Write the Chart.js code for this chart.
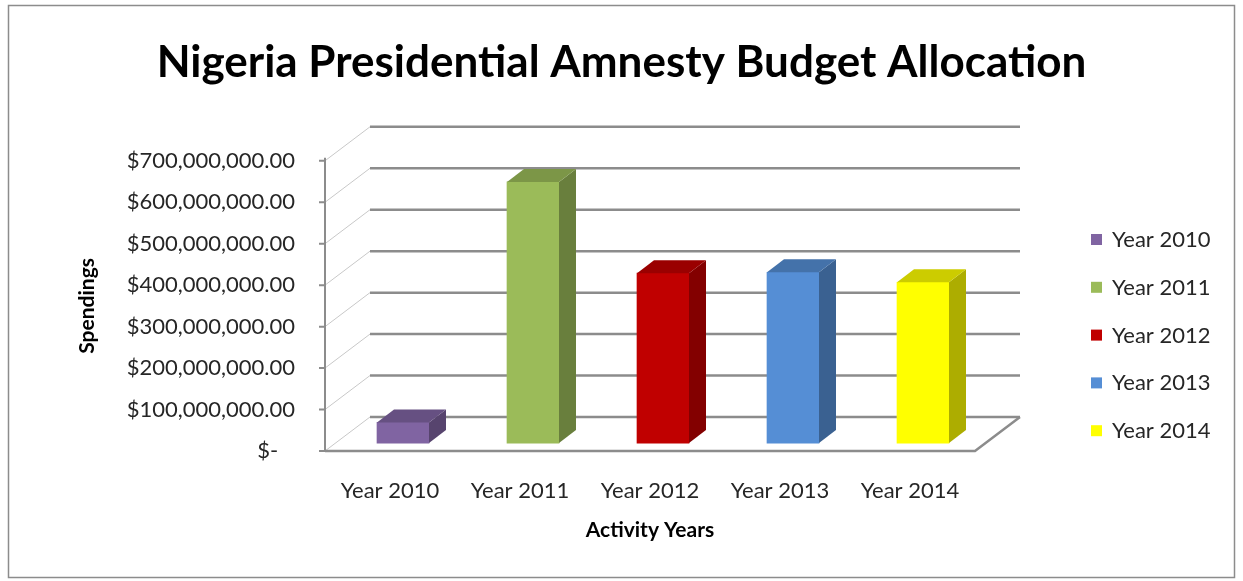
<!DOCTYPE html>
<html>
<head>
<meta charset="utf-8">
<script src="https://cdn.jsdelivr.net/npm/chart.js@4.4.1/dist/chart.umd.min.js"></script>
<style>
  html, body { margin: 0; padding: 0; background: #fff; }
  #wrap { width: 1243px; height: 581px; }
</style>
</head>
<body>
<div id="wrap"><canvas id="budgetChart"></canvas></div>
<script>
// chart data
const categories = ['Year 2010', 'Year 2011', 'Year 2012', 'Year 2013', 'Year 2014'];
const spendings = [50000000, 630000000, 410000000, 412000000, 388000000];
const yTickLabels = ['$-   ', '$100,000,000.00', '$200,000,000.00', '$300,000,000.00',
  '$400,000,000.00', '$500,000,000.00', '$600,000,000.00', '$700,000,000.00'];

// one colour per year, like the excel 3d column chart
const barColors = ['#8064A2', '#9BBB59', '#C00000', '#558ED5', '#FFFF00'];
const gridColor = '#8c8c8c';
const textColor = '#262626';
const fontFamily = 'Lato, "Open Sans", sans-serif';

const wall = { x: 45, y: 34 };     // back wall offset
const barDepth = { x: 17, y: 13 }; // depth of each column

function shade(hex, f) {
  const n = parseInt(hex.slice(1), 16);
  const r = Math.round(((n >> 16) & 255) * f);
  const g = Math.round(((n >> 8) & 255) * f);
  const b = Math.round((n & 255) * f);
  return `rgb(${r},${g},${b})`;
}

// frame: outer border, back wall gridlines, left wall, floor
const framePlugin = {
  id: 'frame',
  beforeDraw(chart) {
    const ctx = chart.ctx;
    ctx.save();
    ctx.strokeStyle = '#8c8c8c';
    ctx.lineWidth = 1.5;
    ctx.strokeRect(8.5, 5.5, chart.width - 17, chart.height - 9);
    ctx.restore();
  },
  beforeDatasetsDraw(chart) {
    const { ctx, chartArea: area } = chart;
    const y = chart.scales.y;
    ctx.save();
    // left wall diagonals
    ctx.strokeStyle = '#c8c8c8';
    ctx.lineWidth = 1;
    y.ticks.forEach(t => {
      const py = y.getPixelForValue(t.value);
      ctx.beginPath();
      ctx.moveTo(area.left, py);
      ctx.lineTo(area.left + wall.x, py - wall.y);
      ctx.stroke();
    });
    // back wall gridlines
    ctx.strokeStyle = gridColor;
    ctx.lineWidth = 2.5;
    y.ticks.forEach(t => {
      const py = y.getPixelForValue(t.value) - wall.y;
      ctx.beginPath();
      ctx.moveTo(area.left + wall.x, py);
      ctx.lineTo(area.right + wall.x, py);
      ctx.stroke();
    });
    // floor front edge and right edge
    ctx.beginPath();
    ctx.moveTo(area.left, area.bottom);
    ctx.lineTo(area.right, area.bottom);
    ctx.lineTo(area.right + wall.x, area.bottom - wall.y);
    ctx.stroke();
    // vertical axis with tick marks
    ctx.lineWidth = 2;
    ctx.beginPath();
    ctx.moveTo(area.left, area.top - 3);
    ctx.lineTo(area.left, area.bottom);
    y.ticks.forEach(t => {
      const py = y.getPixelForValue(t.value);
      ctx.moveTo(area.left - 6, py);
      ctx.lineTo(area.left, py);
    });
    ctx.stroke();
    ctx.restore();
  },
  // top and side faces of the columns
  afterDatasetsDraw(chart) {
    const ctx = chart.ctx;
    const meta = chart.getDatasetMeta(0);
    ctx.save();
    meta.data.forEach((bar, i) => {
      const { x, y, base, width } = bar.getProps(['x', 'y', 'base', 'width'], true);
      const l = x - width / 2, r = x + width / 2;
      const c = barColors[i];
      ctx.fillStyle = shade(c, 0.68);
      ctx.beginPath();
      ctx.moveTo(r, y);
      ctx.lineTo(r + barDepth.x, y - barDepth.y);
      ctx.lineTo(r + barDepth.x, base - barDepth.y);
      ctx.lineTo(r, base);
      ctx.closePath();
      ctx.fill();
      ctx.fillStyle = shade(c, 0.8);
      ctx.beginPath();
      ctx.moveTo(l, y);
      ctx.lineTo(l + barDepth.x, y - barDepth.y);
      ctx.lineTo(r + barDepth.x, y - barDepth.y);
      ctx.lineTo(r, y);
      ctx.closePath();
      ctx.fill();
    });
    ctx.restore();
  },
  // legend on the right, one entry per year
  afterDraw(chart) {
    const { ctx, chartArea: area } = chart;
    ctx.save();
    ctx.font = `22px ${fontFamily}`;
    ctx.textBaseline = 'middle';
    ctx.textAlign = 'left';
    categories.forEach((c, i) => {
      const ly = 240 + i * 47.8;
      const lx = area.right + 116;
      ctx.fillStyle = barColors[i];
      ctx.fillRect(lx, ly - 6, 11, 11);
      ctx.fillStyle = textColor;
      ctx.fillText(c, lx + 21, ly);
    });
    ctx.restore();
  }
};

new Chart(document.getElementById('budgetChart'), {
  type: 'bar',
  data: {
    labels: categories,
    datasets: [{
      label: 'Spendings',
      data: categories.map((c, i) => ({ x: i, y: spendings[i] })),
      backgroundColor: barColors,
      xAxisID: 'xb',
      yAxisID: 'yb',
      barThickness: 52
    }]
  },
  options: {
    responsive: true,
    maintainAspectRatio: false,
    animation: false,
    plugins: {
      legend: { display: false },
      tooltip: { enabled: false },
      title: {
        display: true,
        text: 'Nigeria Presidential Amnesty Budget Allocation',
        color: '#000',
        font: { family: fontFamily, size: 44, weight: 'bold' },
        padding: { top: 36, bottom: 72 }
      }
    },
    scales: {
      x: {
        type: 'category',
        position: 'bottom',
        offset: true,
        grid: { display: false, drawTicks: false },
        border: { display: false },
        ticks: { color: textColor, font: { family: fontFamily, size: 22 }, padding: 27 },
        title: {
          display: true,
          text: 'Activity Years',
          color: '#000',
          font: { family: fontFamily, size: 21, weight: 'bold' },
          padding: { top: 0, bottom: 38 }
        },
        afterFit(s) { s.height = 130; }
      },
      xb: { type: 'linear', display: false, offset: false, min: -0.6, max: 4.4 },
      y: {
        min: 0,
        max: 700000000,
        grid: { display: false, drawTicks: false },
        border: { display: false },
        ticks: {
          stepSize: 100000000,
          color: textColor,
          font: { family: fontFamily, size: 22 },
          padding: 30,
          callback: (v, i) => yTickLabels[i]
        },
        title: {
          display: true,
          text: 'Spendings',
          color: '#000',
          font: { family: fontFamily, size: 21, weight: 'bold' },
          padding: { top: 75, bottom: 0 }
        },
        afterFit(s) { s.width = 325; }
      },
      // empty space on the right that holds the legend
      legendSpace: {
        type: 'linear',
        position: 'right',
        grid: { display: false },
        border: { display: false },
        ticks: { display: false },
        afterFit(s) { s.width = 268; }
      },
      // columns stand a little behind the front edge of the floor
      yb: { display: false, min: -19000000, max: 681000000 }
    }
  },
  plugins: [framePlugin]
});
</script>
</body>
</html>
